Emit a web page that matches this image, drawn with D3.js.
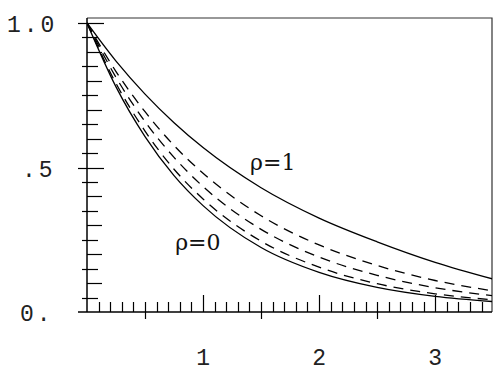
<!DOCTYPE html>
<html>
<head>
<meta charset="utf-8">
<script src="https://cdn.jsdelivr.net/npm/d3@7"></script>
<style>
  body { margin: 0; background: #fff; }
  svg { display: block; }
</style>
</head>
<body>
<svg id="svg"></svg>
<script>
// values
const xValues = [0, 0.25, 0.5, 0.75, 1, 1.5, 2, 2.5, 3, 3.5];
const rhoOne  = [1, 0.868, 0.754, 0.655, 0.569, 0.430, 0.325, 0.243, 0.172, 0.114];
const dashA   = [1, 0.832, 0.693, 0.576, 0.480, 0.333, 0.232, 0.161, 0.109, 0.073];
const dashB   = [1, 0.812, 0.659, 0.535, 0.434, 0.286, 0.190, 0.127, 0.084, 0.056];
const dashC   = [1, 0.791, 0.626, 0.494, 0.391, 0.245, 0.155, 0.098, 0.063, 0.042];
const rhoZero = [1, 0.779, 0.607, 0.472, 0.368, 0.223, 0.137, 0.085, 0.054, 0.036];

const xTickLabels = ["1", "2", "3"];
const yTickLabels = [{v: 1, t: "1.0", x: 7}, {v: 0.5, t: ".5", x: 22}, {v: 0, t: "0.", x: 20}];
const curveLabels = [{t: "\u03C1=1", x: 1.405, y: 0.49}, {t: "\u03C1=0", x: 0.76, y: 0.215}];

const width = 500, height = 373;
const plotLeft = 87, plotRight = 492, plotTop = 18, plotBottom = 312;

const x = d3.scaleLinear().domain([0, 3.49]).range([plotLeft, plotRight]);
const y = d3.scaleLinear().domain([0, 1]).range([plotBottom, 23]);

const svg = d3.select('#svg').attr("width", width).attr("height", height);

svg.append("clipPath").attr("id", "plotclip")
    .append("rect").attr("x", plotLeft).attr("y", plotTop)
    .attr("width", plotRight - plotLeft).attr("height", plotBottom - plotTop);

// frame
svg.append("path")
    .attr("d", `M${plotLeft},${plotTop}H${plotRight}V${plotBottom}`)
    .attr("fill", "none").attr("stroke", "#333").attr("stroke-width", 1.2);

// axes
svg.append("line").attr("x1", plotLeft - 9).attr("x2", plotRight).attr("y1", plotBottom).attr("y2", plotBottom)
    .attr("stroke", "#000").attr("stroke-width", 1.5);
svg.append("line").attr("x1", plotLeft).attr("x2", plotLeft).attr("y1", plotBottom).attr("y2", plotTop)
    .attr("stroke", "#000").attr("stroke-width", 1.5);

// x ticks every 0.1
const xt = d3.range(1, 35).map(i => i / 10);
svg.append("g").selectAll("line").data(xt).join("line")
    .attr("x1", d => Math.round(x(d)) + 0.5).attr("x2", d => Math.round(x(d)) + 0.5)
    .attr("y1", d => {
        const k = Math.round(d * 10);
        return k % 5 == 0 && k % 10 != 0 ? plotBottom + 7 : plotBottom;
    })
    .attr("y2", d => Math.round(d * 10) % 10 == 0 ? plotBottom - 17 : plotBottom - 10)
    .attr("stroke", "#000").attr("stroke-width", 1.2);

// y ticks every 0.05
const yt = d3.range(1, 21).map(i => i / 20);
svg.append("g").selectAll("line").data(yt).join("line")
    .attr("x1", d => {
        const k = Math.round(d * 20);
        if (k % 10 == 0) return plotLeft - 9;
        return k % 2 == 0 ? plotLeft : plotLeft - 5;
    })
    .attr("x2", d => {
        const k = Math.round(d * 20);
        if (k % 10 == 0) return plotLeft + 17;
        return k % 2 == 0 ? plotLeft + 15 : plotLeft + 11;
    })
    .attr("y1", d => Math.round(y(d)) + 0.5).attr("y2", d => Math.round(y(d)) + 0.5)
    .attr("stroke", "#000").attr("stroke-width", 1.2);

// tick labels
const monoFont = "'Liberation Mono', 'DejaVu Sans Mono', monospace";
svg.append("g").selectAll("text").data(xTickLabels).join("text")
    .attr("x", d => x(+d)).attr("y", 365)
    .attr("text-anchor", "middle")
    .attr("font-family", monoFont).attr("font-size", 23).attr("fill", "#222")
    .text(d => d);

svg.append("g").selectAll("text").data(yTickLabels).join("text")
    .attr("x", d => d.x).attr("y", d => y(d.v) + 9)
    .attr("font-family", monoFont).attr("font-size", 23).attr("fill", "#222")
    .attr("letter-spacing", 3)
    .text(d => d.t);

// curves
const line = (vals) => d3.line()
    .x((d, i) => x(xValues[i]))
    .y(d => y(d))
    .curve(d3.curveMonotoneX)(vals);

const series = [
    {vals: rhoOne, dash: null},
    {vals: dashA, dash: "10,7"},
    {vals: dashB, dash: "10,7"},
    {vals: dashC, dash: "10,7"},
    {vals: rhoZero, dash: null}
];

svg.append("g").attr("clip-path", "url(#plotclip)")
    .selectAll("path").data(series).join("path")
    .attr("d", d => line(d.vals))
    .attr("fill", "none").attr("stroke", "#000").attr("stroke-width", 1.3)
    .attr("stroke-dasharray", d => d.dash);

// curve labels
svg.append("g").selectAll("text").data(curveLabels).join("text")
    .attr("x", d => x(d.x)).attr("y", d => y(d.y))
    .attr("font-family", "'DejaVu Serif', serif")
    .attr("font-size", 22).attr("fill", "#111")
    .text(d => d.t);
</script>
</body>
</html>
